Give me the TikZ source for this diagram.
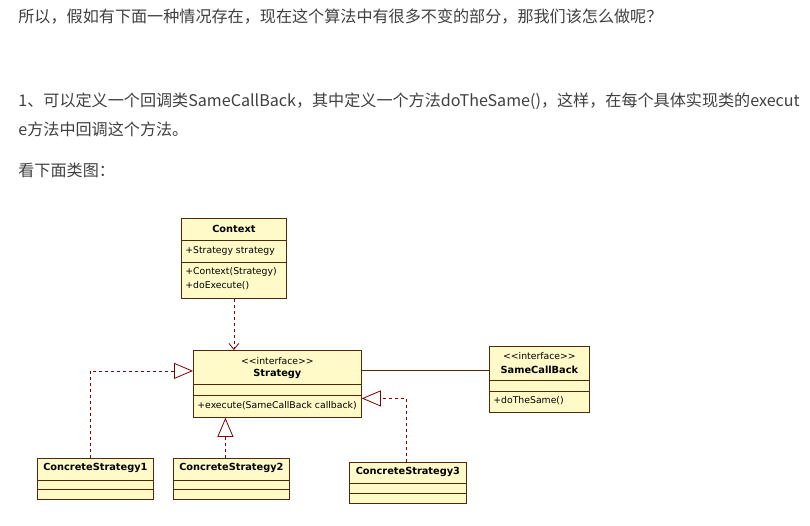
\documentclass[tikz,border=0pt]{standalone}
\usepackage{fontspec}
\newfontfamily\umlfont{DejaVu Sans}
\newfontfamily\cjkfont{Noto Sans CJK SC}
\usepackage{tikz}
\usetikzlibrary{arrows.meta,positioning,calc}
\definecolor{NoteYellow}{RGB}{255,250,200}
\definecolor{LineBrown}{RGB}{80,40,10}
\definecolor{DepRed}{RGB}{128,0,0}
\definecolor{TextGray}{RGB}{64,64,64}

\begin{document}
\begin{tikzpicture}[x=1pt,y=-1pt,line width=0.8pt,
 cls/.style={draw=LineBrown, fill=NoteYellow, rectangle, anchor=north west, inner sep=0pt},
 ttl/.style={font=\umlfont\fontsize{9.8}{11}\selectfont\bfseries, inner sep=0pt},
 stereo/.style={font=\umlfont\fontsize{9.3}{11}\selectfont, inner sep=0pt},
 mbr/.style={font=\umlfont\fontsize{9.3}{14}\selectfont, inner sep=0pt, anchor=west, align=left},
 sep/.style={draw=LineBrown},
 real/.style={DepRed, dashed, -{Triangle[open,length=19pt,width=16pt]}},
 dep/.style={DepRed, dashed, -{Straight Barb[length=6pt,width=10pt]}},
 assoc/.style={draw=LineBrown},
 txt/.style={font=\cjkfont\fontsize{16.1}{20}\selectfont, text=TextGray, anchor=west, inner sep=0pt}
]
\useasboundingbox (0,0) rectangle (810,525);
\fill[white] (0,0) rectangle (810,525);

% text above the diagram
\node[txt] (q) at (18,17) {所以，假如有下面一种情况存在，现在这个算法中有很多不变的部分，那我们该怎么做呢？};
\node[txt] (s1a) at (18,101) {1、可以定义一个回调类SameCallBack，其中定义一个方法doTheSame()，这样，在每个具体实现类的execut};
\node[txt] (s1b) at (18,129) {e方法中回调这个方法。};
\node[txt] (see) at (18,170) {看下面类图：};

% Context
\node[cls, minimum width=105pt, minimum height=80pt] (ctx) at (181,218) {};
\node[ttl] (ctx-name) at ([yshift=-11pt]ctx.north) {Context};
\draw[sep] ([yshift=-22pt]ctx.north west) -- ([yshift=-22pt]ctx.north east);
\draw[sep] ([yshift=-44pt]ctx.north west) -- ([yshift=-44pt]ctx.north east);
\node[mbr] (ctx-attr) at ([xshift=4pt,yshift=-33pt]ctx.north west) {+Strategy strategy};
\node[mbr] (ctx-ops) at ([xshift=4pt,yshift=-61pt]ctx.north west) {+Context(Strategy)\\+doExecute()};

% Strategy
\node[cls, minimum width=168pt, minimum height=67pt] (strat) at (193,350) {};
\node[stereo] (strat-st) at ([yshift=-11pt]strat.north) {<{}<interface>{}>};
\node[ttl] (strat-name) at ([yshift=-24pt]strat.north) {Strategy};
\draw[sep] ([yshift=-34pt]strat.north west) -- ([yshift=-34pt]strat.north east);
\draw[sep] ([yshift=-45pt]strat.north west) -- ([yshift=-45pt]strat.north east);
\node[mbr] (strat-ops) at ([xshift=4pt,yshift=-56pt]strat.north west) {+execute(SameCallBack callback)};

% SameCallBack
\node[cls, minimum width=100pt, minimum height=66pt] (scb) at (489,346) {};
\node[stereo] (scb-st) at ([yshift=-10pt]scb.north) {<{}<interface>{}>};
\node[ttl] (scb-name) at ([yshift=-24pt]scb.north) {SameCallBack};
\draw[sep] ([yshift=-34pt]scb.north west) -- ([yshift=-34pt]scb.north east);
\draw[sep] ([yshift=-45pt]scb.north west) -- ([yshift=-45pt]scb.north east);
\node[mbr] (scb-ops) at ([xshift=4pt,yshift=-55pt]scb.north west) {+doTheSame()};

% concrete strategies
\node[cls, minimum width=116pt, minimum height=41pt] (cs1) at (37,458) {};
\node[ttl] (cs1-name) at ([yshift=-10pt]cs1.north) {ConcreteStrategy1};
\draw[sep] ([yshift=-22pt]cs1.north west) -- ([yshift=-22pt]cs1.north east);
\draw[sep] ([yshift=-31pt]cs1.north west) -- ([yshift=-31pt]cs1.north east);

\node[cls, minimum width=116pt, minimum height=41pt] (cs2) at (173,458) {};
\node[ttl] (cs2-name) at ([yshift=-10pt]cs2.north) {ConcreteStrategy2};
\draw[sep] ([yshift=-22pt]cs2.north west) -- ([yshift=-22pt]cs2.north east);
\draw[sep] ([yshift=-31pt]cs2.north west) -- ([yshift=-31pt]cs2.north east);

\node[cls, minimum width=117pt, minimum height=41pt] (cs3) at (349,462) {};
\node[ttl] (cs3-name) at ([yshift=-10pt]cs3.north) {ConcreteStrategy3};
\draw[sep] ([yshift=-21pt]cs3.north west) -- ([yshift=-21pt]cs3.north east);
\draw[sep] ([yshift=-31pt]cs3.north west) -- ([yshift=-31pt]cs3.north east);

% relations
\draw[dep] (ctx.south) -- (ctx.south |- strat.north);
\draw[real] ([xshift=-5pt]cs1.north) |- ([yshift=13pt]strat.west);
\draw[real] ([xshift=-6pt]cs2.north) -- ([xshift=-6pt]cs2.north |- strat.south);
\draw[real] ([xshift=-2pt]cs3.north) |- ([yshift=-14.5pt]strat.east);
\draw[assoc] ([yshift=13.5pt]strat.east) -- ([yshift=13.5pt]strat.east -| scb.west);
\end{tikzpicture}
\end{document}
